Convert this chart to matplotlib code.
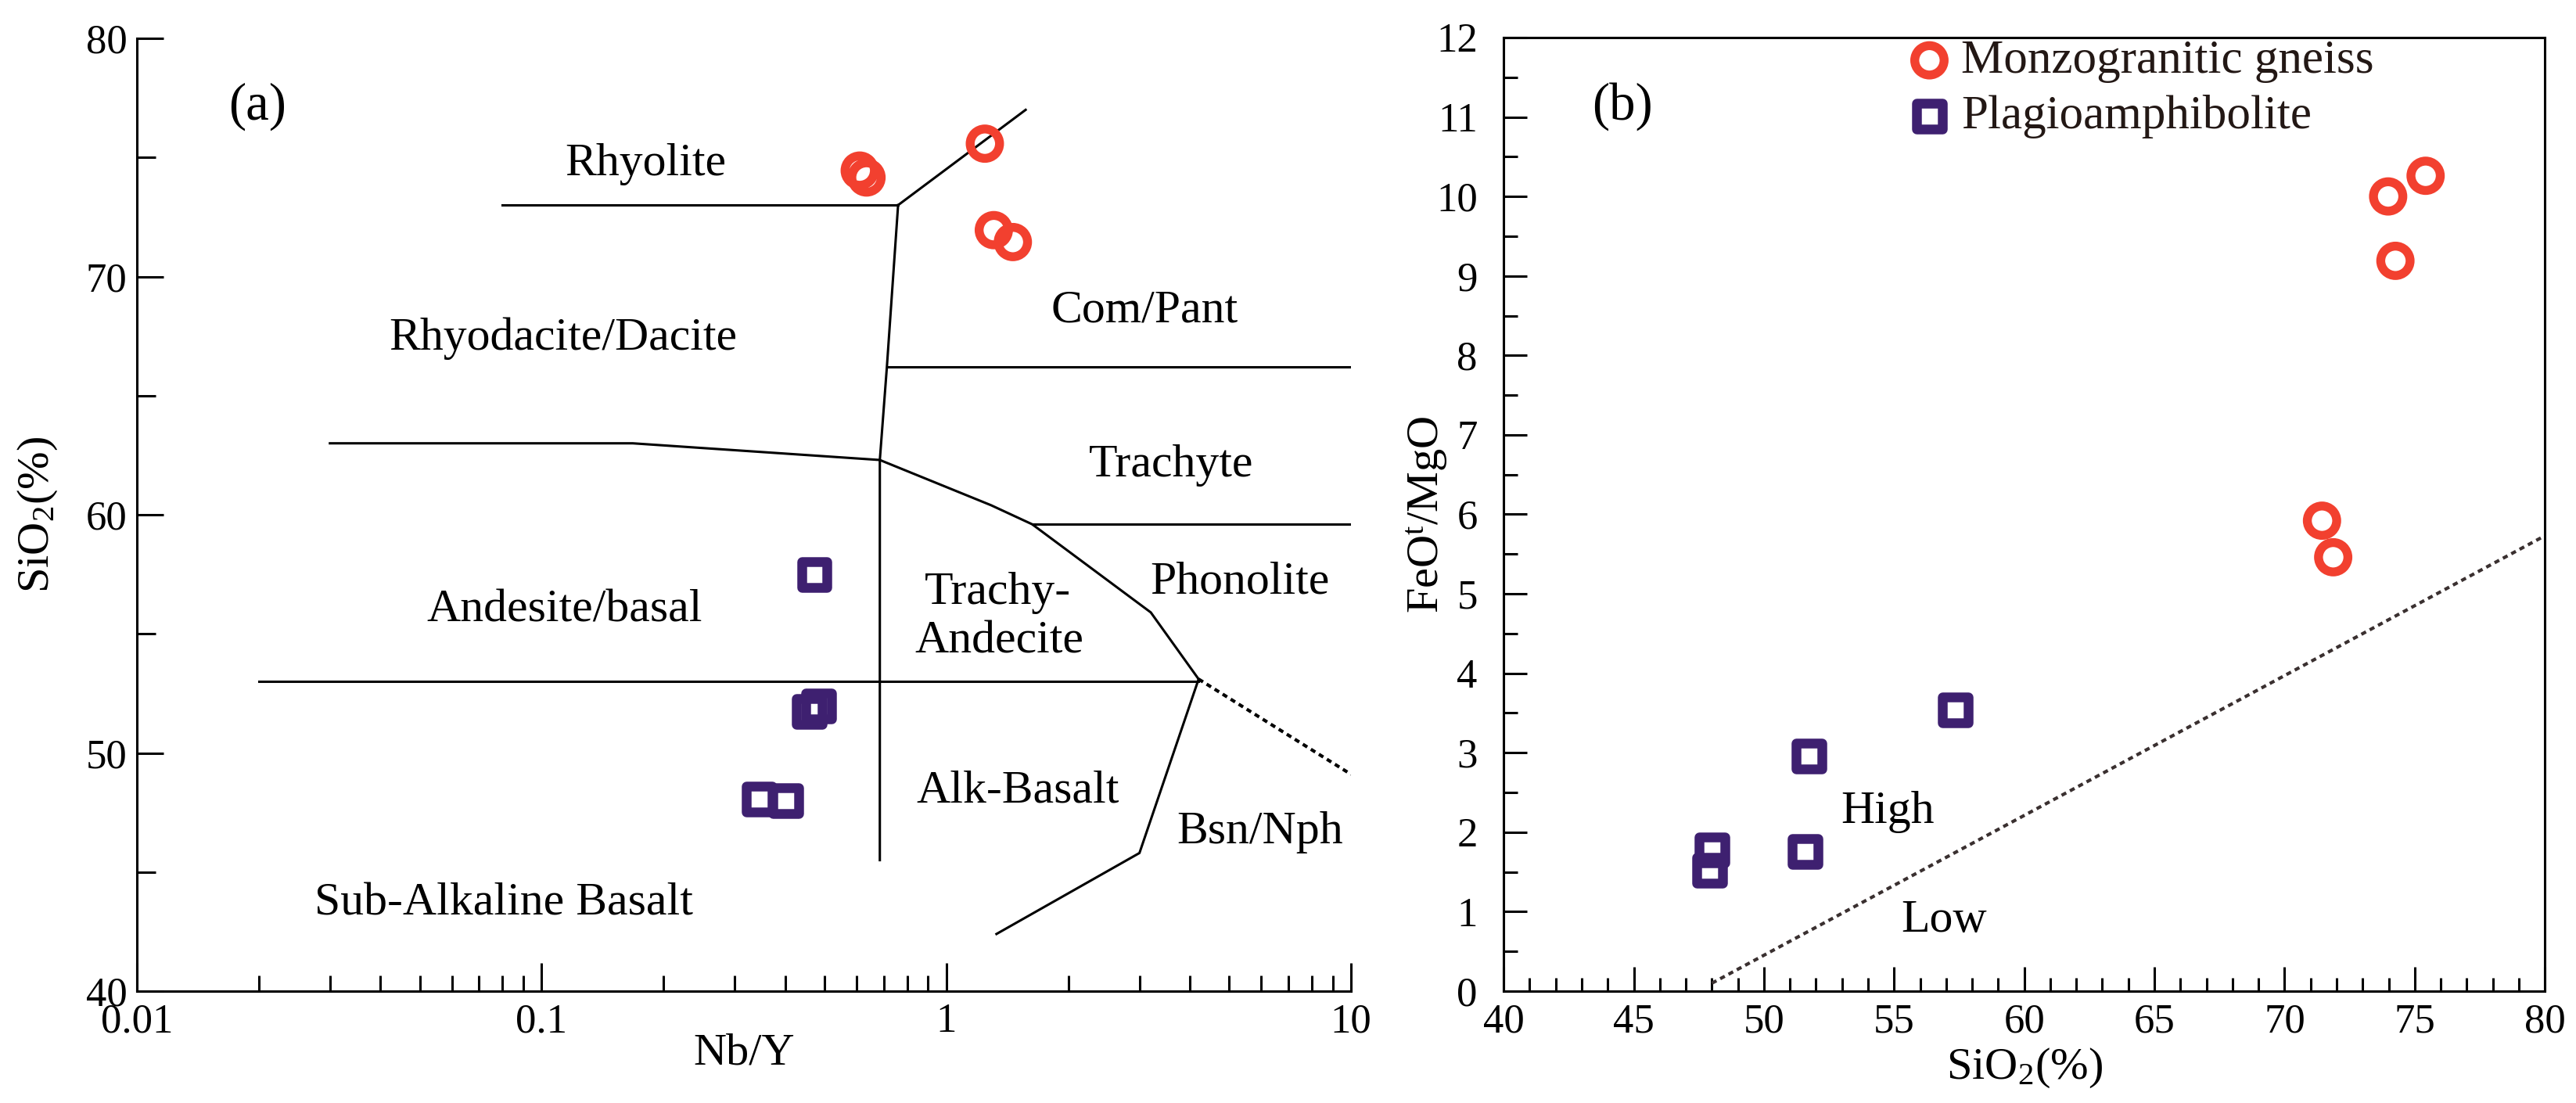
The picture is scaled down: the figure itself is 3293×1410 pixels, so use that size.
import matplotlib
matplotlib.use("Agg")
import matplotlib.pyplot as plt
from matplotlib.ticker import MultipleLocator, LogLocator, NullFormatter, FixedLocator, FixedFormatter

plt.rcParams["font.family"] = ["Liberation Serif", "DejaVu Serif"]
plt.rcParams["mathtext.fontset"] = "custom"
plt.rcParams["mathtext.rm"] = "Liberation Serif"
plt.rcParams["mathtext.it"] = "Liberation Serif:italic"

# ---- data ----
# panel (a): Nb/Y vs SiO2
gneiss_nby = [0.611, 0.635, 1.245, 1.31, 1.46]
gneiss_sio2_a = [74.45, 74.16, 75.58, 71.95, 71.45]
amph_nby = [0.472, 0.458, 0.484, 0.345, 0.401]
amph_sio2_a = [57.49, 51.74, 51.98, 48.05, 47.99]

# panel (b): SiO2 vs FeOt/MgO
gneiss_sio2_b = [73.98, 75.42, 74.26, 71.44, 71.87]
gneiss_ratio = [10.00, 10.26, 9.19, 5.92, 5.46]
amph_sio2_b = [57.36, 51.73, 51.58, 48.0, 47.91]
amph_ratio = [3.54, 2.96, 1.76, 1.78, 1.52]

# classification boundaries of panel (a)
bounds_a = [
    ([0.08, 0.76], [73.0, 73.0]),
    ([0.76, 1.57], [73.0, 77.0]),
    ([0.76, 0.713, 0.685, 0.685], [73.0, 66.2, 62.3, 45.5]),
    ([0.713, 10], [66.2, 66.2]),
    ([0.03, 0.168, 0.685, 1.29, 1.63, 3.2, 4.2], [63.0, 63.0, 62.3, 60.4, 59.6, 55.9, 53.1]),
    ([1.63, 10], [59.6, 59.6]),
    ([0.02, 4.2], [53.0, 53.0]),
    ([4.2, 3.0, 1.33], [53.1, 45.8, 42.4]),
]
dotted_a = ([4.2, 10], [53.1, 49.1])

# field names of panel (a): text, Nb/Y, SiO2 (baseline)
fields_a = [
    ("Rhyolite", 0.181, 74.25),
    ("Rhyodacite/Dacite", 0.113, 66.93),
    ("Com/Pant", 3.09, 68.11),
    ("Trachyte", 3.59, 61.62),
    ("Phonolite", 5.32, 56.70),
    ("Trachy-", 1.34, 56.25),
    ("Andecite", 1.35, 54.19),
    ("Andesite/basal", 0.114, 55.52),
    ("Alk-Basalt", 1.50, 47.94),
    ("Bsn/Nph", 5.96, 46.22),
    ("Sub-Alkaline Basalt", 0.0807, 43.21),
]

# divide line of panel (b)
line_b_x = [48.0, 80.0]
line_b_y = [0.1, 5.73]

red = "#F2402F"
purple = "#3E2070"
ink = "#231815"

fig = plt.figure(figsize=(32.93, 14.10), dpi=100)
ax1 = fig.add_axes([0.0531, 0.1014, 0.4714, 0.8638])
ax2 = fig.add_axes([0.5837, 0.1014, 0.4042, 0.8646])

lw = 2.2
fs_txt = 43
fs_tick = 38
fs_lab = 42
dots = (0, (1.6, 1.3))

# ---------------- panel (a) ----------------
for xs, ys in bounds_a:
    ax1.plot(xs, ys, color="black", lw=lw, solid_joinstyle="miter")
ax1.plot(dotted_a[0], dotted_a[1], color="black", lw=3.0, linestyle=dots)

ax1.scatter(gneiss_nby, gneiss_sio2_a, s=730, marker="o", facecolors="none",
            edgecolors=red, linewidths=8.2, zorder=3)
ax1.scatter(amph_nby, amph_sio2_a, s=560, marker="s", facecolors="none",
            edgecolors=purple, linewidths=9, zorder=3)

for t, x, y in fields_a:
    ax1.text(x, y, t, fontsize=fs_txt, ha="center", va="baseline")
ax1.text(0.01986, 76.6, "(a)", fontsize=48, ha="center", va="baseline")

ax1.set_xscale("log")
ax1.set_xlim(0.01, 10)
ax1.set_ylim(40, 80)
ax1.spines["top"].set_visible(False)
ax1.spines["right"].set_visible(False)
for sp in ["left", "bottom"]:
    ax1.spines[sp].set_linewidth(lw)
ax1.xaxis.set_major_locator(FixedLocator([0.01, 0.1, 1, 10]))
ax1.xaxis.set_major_formatter(FixedFormatter(["0.01", "0.1", "1", "10"]))
ax1.xaxis.set_minor_locator(LogLocator(base=10, subs=[2, 3, 4, 5, 6, 7, 8, 9]))
ax1.xaxis.set_minor_formatter(NullFormatter())
ax1.yaxis.set_major_locator(MultipleLocator(10))
ax1.yaxis.set_minor_locator(MultipleLocator(5))
ax1.tick_params(axis="x", which="major", direction="in", length=26, width=lw,
                labelsize=fs_tick, pad=11)
ax1.tick_params(axis="x", which="minor", direction="in", length=14.4, width=lw)
ax1.tick_params(axis="y", which="major", direction="in", length=24.5, width=lw,
                labelsize=fs_tick, pad=9)
ax1.tick_params(axis="y", which="minor", direction="in", length=17, width=lw)
ax1.set_xlabel("Nb/Y", fontsize=fs_lab)
ax1.set_ylabel(r"SiO$_\mathrm{2}$(%)", fontsize=fs_lab)
ax1.xaxis.set_label_coords(0.5, -0.044)
ax1.yaxis.set_label_coords(-0.064, 0.5)

# ---------------- panel (b) ----------------
ax2.plot(line_b_x, line_b_y, color="#3a3030", lw=3.0, linestyle=dots)
ax2.scatter(gneiss_sio2_b, gneiss_ratio, s=730, marker="o", facecolors="none",
            edgecolors=red, linewidths=8.2, zorder=3, label="Monzogranitic gneiss")
ax2.scatter(amph_sio2_b, amph_ratio, s=560, marker="s", facecolors="none",
            edgecolors=purple, linewidths=9, zorder=3, label="Plagioamphibolite")

ax2.text(54.76, 2.12, "High", fontsize=fs_txt, ha="center", va="baseline")
ax2.text(56.93, 0.75, "Low", fontsize=fs_txt, ha="center", va="baseline")
ax2.text(44.55, 10.97, "(b)", fontsize=48, ha="center", va="baseline")

ax2.set_xlim(40, 80)
ax2.set_ylim(0, 12)
for sp in ax2.spines.values():
    sp.set_linewidth(lw)
ax2.xaxis.set_major_locator(MultipleLocator(5))
ax2.xaxis.set_minor_locator(MultipleLocator(1))
ax2.yaxis.set_major_locator(MultipleLocator(1))
ax2.yaxis.set_minor_locator(MultipleLocator(0.5))
ax2.tick_params(axis="x", which="major", direction="in", length=22, width=lw,
                labelsize=fs_tick, pad=11)
ax2.tick_params(axis="x", which="minor", direction="in", length=12, width=lw)
ax2.tick_params(axis="y", which="major", direction="in", length=21.6, width=lw,
                labelsize=fs_tick, pad=24)
ax2.tick_params(axis="y", which="minor", direction="in", length=13, width=lw)
ax2.set_xlabel(r"SiO$_\mathrm{2}$(%)", fontsize=fs_lab)
ax2.set_ylabel(r"FeO$^\mathrm{t}$/MgO", fontsize=fs_lab)
ax2.xaxis.set_label_coords(0.5, -0.058)
ax2.yaxis.set_label_coords(-0.052, 0.5)

leg = ax2.legend(loc="upper left", bbox_to_anchor=(0.386, 0.998), frameon=False,
                 fontsize=44, handlelength=1.0, handletextpad=0.17, borderpad=0,
                 borderaxespad=0, labelspacing=0.25, scatterpoints=1)
for t in leg.get_texts():
    t.set_color(ink)

fig.savefig("out.png", dpi=100)
